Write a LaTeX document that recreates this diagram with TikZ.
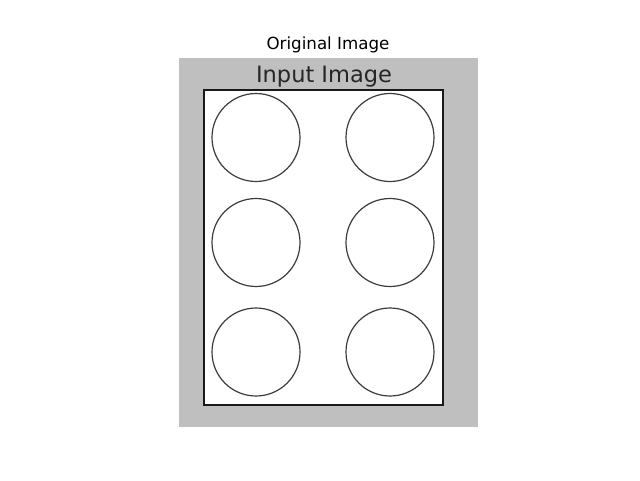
\documentclass[tikz,border=0pt]{standalone}
\usepackage{fontspec}
\setmainfont{DejaVu Sans}
\usepackage{xcolor}
\usetikzlibrary{positioning}
\definecolor{canvasgray}{RGB}{191,191,191}
\definecolor{inkgray}{RGB}{60,60,60}

\begin{document}
\begin{tikzpicture}[
  x=1pt, y=-1pt,
  title/.style={anchor=base, inner sep=0pt, font=\fontsize{16.7}{20}\selectfont},
  label/.style={anchor=base, inner sep=0pt, text=black!85, font=\fontsize{22.5}{26}\selectfont},
  well/.style={draw=inkgray, line width=1.2pt},
  frame/.style={draw=black!90, line width=1.8pt, fill=white}
]
  \useasboundingbox (0,0) rectangle (640,480);
  % the image itself
  \fill[canvasgray] (179,58) rectangle (478,427);
  \draw[frame] (204,90) rectangle (443,405);
  \node[label] (inputlbl) at (324,82) {Input Image};
  % six circles
  \foreach \cx in {256,390}
    \foreach \cy in {137.5,242.5,352}
      \draw[well] (\cx,\cy) circle[radius=44];
  % axes title
  \node[title] (figtitle) at (328,49) {Original Image};
\end{tikzpicture}
\end{document}
